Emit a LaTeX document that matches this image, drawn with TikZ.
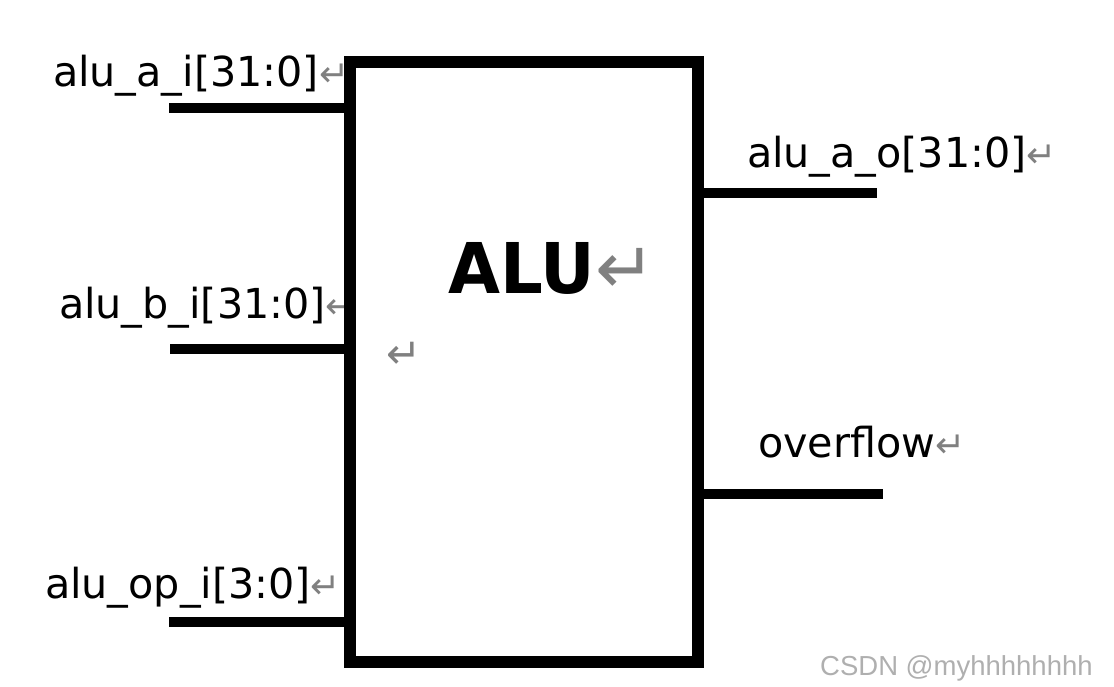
\documentclass[tikz,border=0pt]{standalone}
\usepackage{fontspec}
\setmainfont{DejaVu Sans}
\newfontfamily\wmfont{Liberation Sans}
\definecolor{retgray}{RGB}{128,128,128}
\definecolor{wmgray}{RGB}{175,175,175}
\newcommand{\lblsize}{\fontsize{41.3}{46}\selectfont}
\newcommand{\retmark}[1]{{\color{retgray}\fontsize{#1}{#1}\selectfont ↵}}
\tikzset{
  blockbox/.style={draw=black, line width=12pt, minimum width=348pt, minimum height=600pt, inner sep=0pt},
  wire/.style={draw=black, line width=10pt, line cap=butt},
  lbl/.style={anchor=base west, inner sep=0pt, outer sep=0pt, font=\lblsize, text=black},
}
\begin{document}
\begin{tikzpicture}[x=1pt, y=-1pt]
\useasboundingbox (0,0) rectangle (1114,686);
% labels
\node[lbl] (lai) at (53,86) {alu\_a\_i[31:0]\retmark{36}};
\node[lbl] (lbi) at (59,318) {alu\_b\_i[31:0]\retmark{36}};
\node[lbl] (lopi) at (45,598) {alu\_op\_i[3:0]\retmark{36}};
\node[lbl] (lao) at (747,167) {alu\_a\_o[31:0]\retmark{36}};
\node[lbl] (lov) at (758,457) {overflow\retmark{36}};
\node[anchor=base west, inner sep=0pt] (alu) at (448,293) {\scalebox{0.96}[1]{\fontsize{70}{80}\selectfont\bfseries ALU}\retmark{72}};
\node[anchor=base west, inner sep=0pt] (ret) at (386,368) {\retmark{42}};
\node[anchor=base west, inner sep=0pt, text=wmgray] (wm) at (820,675) {\wmfont\fontsize{27.5}{30}\selectfont CSDN @myhhhhhhhh};
% block
\node[blockbox] (box) at (524,362) {};
% wires
\coordinate (ai) at (169,108);
\coordinate (bi) at (170,349);
\coordinate (opi) at (169,622);
\coordinate (ao) at (877,193);
\coordinate (ov) at (883,494);
\draw[wire] (ai) -- (ai -| box.west);
\draw[wire] (bi) -- (bi -| box.west);
\draw[wire] (opi) -- (opi -| box.west);
\draw[wire] (ao -| box.east) -- (ao);
\draw[wire] (ov -| box.east) -- (ov);
\end{tikzpicture}
\end{document}
